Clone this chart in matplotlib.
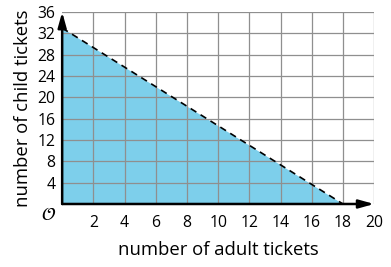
import matplotlib
matplotlib.use("Agg")
import matplotlib.pyplot as plt

# boundary line: adult tickets vs child tickets
line_x = [0, 18]
line_y = [33, 0]
x_ticks = [2, 4, 6, 8, 10, 12, 14, 16, 18, 20]
y_ticks = [4, 8, 12, 16, 20, 24, 28, 32, 36]

plt.rcParams["font.family"] = ["Open Sans", "DejaVu Sans"]

fig = plt.figure(figsize=(3.91, 2.67), dpi=100)
ax = fig.add_axes([0.159, 0.236, 0.798, 0.719])
ax.set_xlim(0, 20)
ax.set_ylim(0, 36)

ax.fill_between(line_x, line_y, 0, color="#7dcfeb", lw=0, zorder=1)
ax.plot(line_x, line_y, color="black", lw=1.2, ls=(0, (4, 3)), zorder=4)

for x in x_ticks:
    ax.axvline(x, color="#8f8f8f", lw=0.9, zorder=2)
for y in y_ticks:
    ax.axhline(y, color="#8f8f8f", lw=0.9, zorder=2)

for s in ax.spines.values():
    s.set_visible(False)

arrow = dict(arrowstyle="-|>,head_length=0.9,head_width=0.25", color="black", lw=1.8,
             shrinkA=0, shrinkB=0)
ax.annotate("", xy=(20, 0), xytext=(0, 0), arrowprops=arrow, zorder=5, annotation_clip=False)
ax.annotate("", xy=(0, 36), xytext=(0, 0), arrowprops=arrow, zorder=5, annotation_clip=False)

ax.set_xticks(x_ticks)
ax.set_yticks(y_ticks)
ax.tick_params(length=0, labelsize=11.3)
ax.tick_params(axis="x", pad=8)
ax.tick_params(axis="y", pad=5)
ax.text(-0.4, -0.4, r"$\mathcal{O}$", fontsize=13, ha="right", va="top")

ax.set_xlabel("number of adult tickets", fontsize=13.3, labelpad=7)
ax.set_ylabel("number of child tickets", fontsize=13.3, labelpad=4)

fig.savefig("out.png", dpi=100)
